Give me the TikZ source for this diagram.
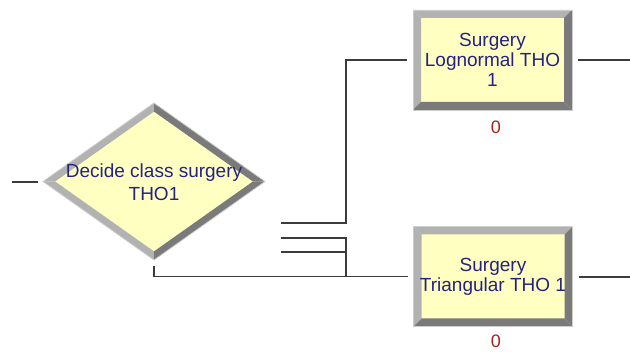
\documentclass[tikz,border=0pt]{standalone}
\usepackage{fontspec}
\setmainfont{Liberation Sans}
\usetikzlibrary{shapes.geometric,calc}

\definecolor{modfill}{RGB}{255,255,194}
\definecolor{bevlight}{RGB}{178,178,178}
\definecolor{bevdark}{RGB}{122,122,122}
\definecolor{bevedge}{RGB}{205,205,205}
\definecolor{labtext}{RGB}{38,34,132}
\definecolor{cnttext}{RGB}{165,35,25}
\definecolor{wire}{RGB}{60,60,60}

\tikzset{
  decshape/.style={diamond, fill=modfill, draw=none, inner sep=0pt, outer sep=0pt,
    minimum width=222pt, minimum height=157pt},
  procbox/.style={rectangle, fill=modfill, draw=none, inner sep=0pt, outer sep=0pt,
    minimum width=159pt, minimum height=100pt},
  lbl/.style={text=labtext, align=center, inner sep=0pt,
    font=\fontsize{19}{20}\selectfont},
  declbl/.style={lbl, font=\fontsize{19}{22.5}\selectfont},
  cnt/.style={text=cnttext, inner sep=0pt, font=\fontsize{18}{18}\selectfont},
  conn/.style={draw=wire, line width=1.2pt},
}

\begin{document}
\begin{tikzpicture}[x=1pt, y=-1pt]
  \useasboundingbox (0,0) rectangle (630,352);

  % Decide module
  \node[decshape] (dec) at (154,181.5) {};
  \coordinate (dL) at ($(dec.center)+(-98.9,0)$);
  \coordinate (dT) at ($(dec.center)+(0,-69.9)$);
  \coordinate (dR) at ($(dec.center)+(98.9,0)$);
  \coordinate (dB) at ($(dec.center)+(0,69.9)$);
  \fill[bevlight] (dec.west) -- (dec.north) -- (dT) -- (dL) -- cycle;
  \fill[bevlight] (dec.west) -- (dec.south) -- (dB) -- (dL) -- cycle;
  \fill[bevdark] (dec.north) -- (dec.east) -- (dR) -- (dT) -- cycle;
  \fill[bevdark] (dec.south) -- (dec.east) -- (dR) -- (dB) -- cycle;
  \draw[bevedge, line width=0.8pt] (dec.west) -- (dec.north) -- (dec.east) -- (dec.south) -- cycle;
  \node[declbl] (dectext) at ($(dec.center)+(0,0.5)$) {Decide class surgery\\THO1};

  % Process modules
  \node[procbox] (log) at (492.5,60) {};
  \node[procbox] (tri) at (493,276.5) {};
  \foreach \m in {log,tri} {
    \fill[bevlight] (\m.north west) -- (\m.north east) -- ($(\m.north east)+(-8,8)$)
      -- ($(\m.north west)+(8,8)$) -- cycle;
    \fill[bevlight] (\m.north west) -- (\m.south west) -- ($(\m.south west)+(8,-8)$)
      -- ($(\m.north west)+(8,8)$) -- cycle;
    \fill[bevdark] (\m.south west) -- (\m.south east) -- ($(\m.south east)+(-8,-8)$)
      -- ($(\m.south west)+(8,-8)$) -- cycle;
    \fill[bevdark] (\m.north east) -- (\m.south east) -- ($(\m.south east)+(-8,-8)$)
      -- ($(\m.north east)+(-8,8)$) -- cycle;
    \draw[bevedge, line width=0.8pt] (\m.north west) rectangle (\m.south east);
  }
  \node[lbl] (logtext) at (log.center) {Surgery\\Lognormal THO\\1};
  \node[lbl] (tritext) at (tri.center) {Surgery\\Triangular THO 1};

  % Counters
  \node[cnt] (logcnt) at (496,127) {0};
  \node[cnt] (tricnt) at (496,341) {0};

  % Connectors
  \coordinate (in1) at (12,182);
  \coordinate (o1) at (281,223);
  \coordinate (o2) at (281,238);
  \coordinate (o3) at (281,252);
  \coordinate (bus) at (346,0);
  \coordinate (out1) at (630,60);
  \coordinate (out2) at (630,277);

  \draw[conn] (in1) -- ([xshift=-5pt]dec.west |- in1);
  \draw[conn] ([yshift=-6pt]dec.south) |- ([xshift=-6pt]tri.west);
  \draw[conn] (o1) -| (bus |- log.west) -- ([xshift=-6pt]log.west);
  \draw[conn] (o2) -| (bus |- tri.west);
  \draw[conn] (o3) -- (bus |- o3);
  \draw[conn] ([xshift=6pt]log.east) -- (out1);
  \draw[conn] ([xshift=6pt]tri.east |- out2) -- (out2);
\end{tikzpicture}
\end{document}
